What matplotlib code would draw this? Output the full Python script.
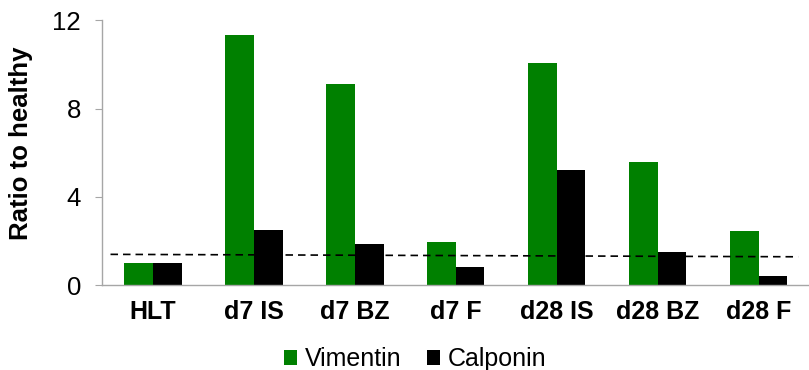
import numpy as np
import matplotlib
matplotlib.use('Agg')
import matplotlib.pyplot as plt

plt.rcParams['font.family'] = ['Liberation Sans', 'DejaVu Sans']

categories = ['HLT', 'd7 IS', 'd7 BZ', 'd7 F', 'd28 IS', 'd28 BZ', 'd28 F']
vimentin = [1.0, 11.35, 9.1, 1.93, 10.06, 5.57, 2.45]
calponin = [1.0, 2.48, 1.84, 0.80, 5.2, 1.50, 0.42]

# dashed reference (trend) line, endpoints
ref_x = [-0.42, 6.39]
ref_y = [1.39, 1.28]

fig = plt.figure(figsize=(8.09, 3.70), dpi=100)
ax = fig.add_axes([0.126, 0.2297, 0.873, 0.7153])

x = np.arange(len(categories))
w = 0.284
ax.bar(x - w / 2, vimentin, w, color='#008000', label='Vimentin')
ax.bar(x + w / 2, calponin, w, color='black', label='Calponin')
ax.plot(ref_x, ref_y, color='black', linestyle=(0, (4.5, 3)), linewidth=1.2)

ax.set_xlim(-0.505, 6.49)
ax.set_ylim(0, 12)
ax.set_yticks([0, 4, 8, 12])
ax.set_xticks(x)
ax.set_xticklabels(categories, fontsize=18, fontweight='bold')
ax.tick_params(axis='x', length=0, pad=11)
ax.tick_params(axis='y', labelsize=18.5, length=5, color='#a6a6a6', pad=10)
ax.set_ylabel('Ratio to healthy', fontsize=18.5, fontweight='bold')
ax.yaxis.set_label_coords(-0.098, 0.534)

for s in ['top', 'right']:
    ax.spines[s].set_visible(False)
for s in ['left', 'bottom']:
    ax.spines[s].set_color('#a6a6a6')
    ax.spines[s].set_linewidth(1.0)

fig.legend(loc='center', bbox_to_anchor=(0.513, 0.03), ncol=2, frameon=False,
           fontsize=18, handlelength=0.55, handleheight=0.55, handletextpad=0.3,
           columnspacing=1.0, borderaxespad=0)

fig.savefig('out.png', dpi=100)
